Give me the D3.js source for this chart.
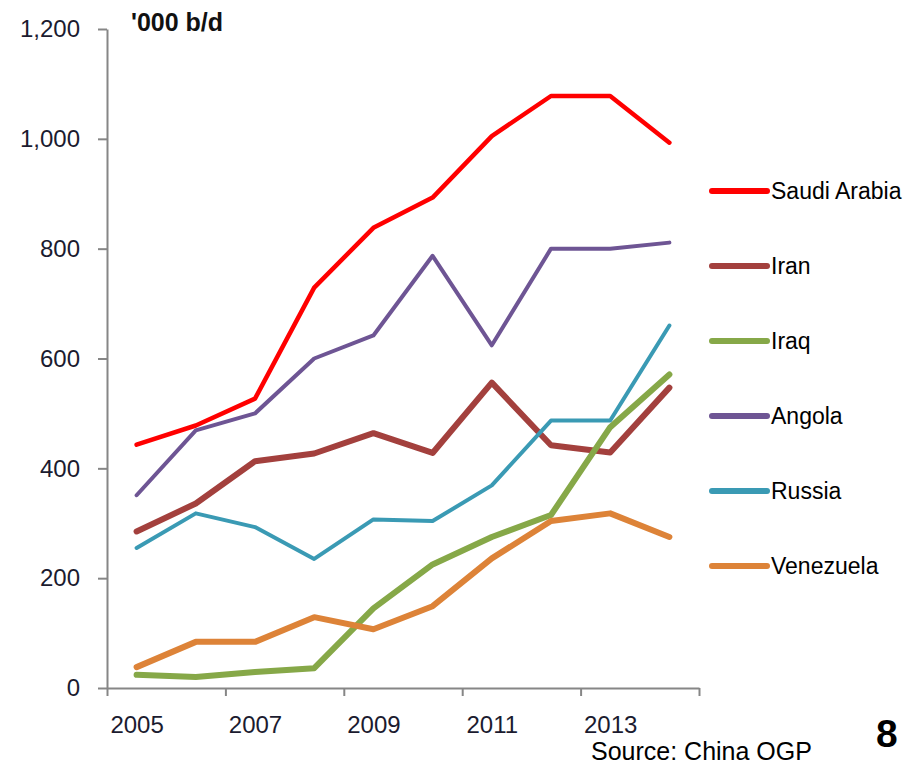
<!DOCTYPE html>
<html>
<head>
<meta charset="utf-8">
<script src="https://cdn.jsdelivr.net/npm/d3@7"></script>
<style>
  body { margin: 0; background: #fff; }
  svg { display: block; font-family: "Liberation Sans", Arial, sans-serif; }
</style>
</head>
<body>
<div id="chart"></div>
<script>
// data, '000 b/d
let years = [2005, 2006, 2007, 2008, 2009, 2010, 2011, 2012, 2013, 2014]
let yTicks = [0, 200, 400, 600, 800, 1000, 1200]
let labelYears = [2005, 2007, 2009, 2011, 2013]

let saudiArabia = [443, 478, 527, 729, 838, 893, 1005, 1078, 1078, 993]
let iran        = [285, 336, 413, 427, 464, 428, 556, 442, 429, 547]
let iraq        = [24, 20, 29, 36, 145, 225, 275, 315, 475, 571]
let angola      = [351, 469, 500, 600, 642, 787, 624, 800, 800, 811]
let russia      = [255, 318, 293, 235, 307, 304, 369, 487, 487, 660]
let venezuela   = [38, 84, 84, 129, 107, 149, 236, 304, 318, 275]

let seriesNames = ['Saudi Arabia', 'Iran', 'Iraq', 'Angola', 'Russia', 'Venezuela']
let seriesValues = [saudiArabia, iran, iraq, angola, russia, venezuela]
let seriesColors = ['#ff0000', '#a3403d', '#86a848', '#6e5594', '#3a9ab4', '#dd8338']
let seriesWidths = [4.5, 6, 6, 4, 4, 6]

let width = 911, height = 766

let svg = d3.select('#chart').append('svg')
    .attr('width', width)
    .attr('height', height)

// x is an index scale so the ticks can sit between years
let xScale = d3.scaleLinear().domain([0, years.length]).range([107, 699])
let yScale = d3.scaleLinear().domain([0, 1200]).range([688, 29])

function xPos(i){ return xScale(i + 0.5) }

// y axis
let yAxis = svg.append('g')
    .attr('transform', 'translate(' + xScale(0) + ',0)')
    .call(d3.axisLeft(yScale).tickValues(yTicks).tickFormat(d3.format(','))
        .tickSize(9).tickSizeOuter(0).tickPadding(18))

// x axis tick marks on every second boundary
let xAxis = svg.append('g')
    .attr('transform', 'translate(0,' + yScale(0) + ')')
    .call(d3.axisBottom(xScale).tickValues(d3.range(0, years.length + 1, 2))
        .tickFormat('').tickSize(8).tickSizeOuter(0))

// x labels centred under the year
let xLabels = svg.append('g')
    .attr('transform', 'translate(0,' + yScale(0) + ')')
    .call(d3.axisBottom(xScale)
        .tickValues(labelYears.map(function(y){ return years.indexOf(y) + 0.5 }))
        .tickFormat(function(d){ return years[d - 0.5] })
        .tickSize(0).tickPadding(28))
xLabels.select('.domain').remove()

svg.selectAll('.domain').attr('stroke', '#868686').attr('stroke-width', 2)
svg.selectAll('.tick line').attr('stroke', '#868686').attr('stroke-width', 2)
svg.selectAll('.tick text')
    .attr('font-size', 24)
    .attr('font-family', '"Liberation Sans", Arial, sans-serif')
    .attr('fill', '#1b1b2f')

// lines
let line = d3.line()
    .x(function(d, i){ return xPos(i) })
    .y(function(d){ return yScale(d) })

seriesNames.forEach(function(name, k){
    svg.append('path')
        .datum(seriesValues[k])
        .attr('fill', 'none')
        .attr('stroke', seriesColors[k])
        .attr('stroke-width', seriesWidths[k])
        .attr('stroke-linejoin', 'round')
        .attr('stroke-linecap', 'round')
        .attr('d', line)
})

// legend
let legendY = d3.scalePoint().domain(seriesNames).range([191, 566])

seriesNames.forEach(function(name, k){
    svg.append('line')
        .attr('x1', 712)
        .attr('x2', 767)
        .attr('y1', legendY(name))
        .attr('y2', legendY(name))
        .attr('stroke', seriesColors[k])
        .attr('stroke-width', 6)
        .attr('stroke-linecap', 'round')

    svg.append('text')
        .attr('x', 771)
        .attr('y', legendY(name))
        .attr('dy', '0.35em')
        .attr('font-size', 23)
        .attr('fill', '#000')
        .text(name)
})

svg.append('text')
    .attr('x', 131)
    .attr('y', 31)
    .attr('font-size', 25)
    .attr('font-weight', 'bold')
    .attr('fill', '#111')
    .text("'000 b/d")

svg.append('text')
    .attr('x', 591)
    .attr('y', 760)
    .attr('font-size', 25)
    .attr('fill', '#000')
    .text('Source: China OGP')

svg.append('text')
    .attr('x', 876)
    .attr('y', 747)
    .attr('font-size', 39)
    .attr('font-weight', 'bold')
    .attr('fill', '#000')
    .text('8')
</script>
</body>
</html>
